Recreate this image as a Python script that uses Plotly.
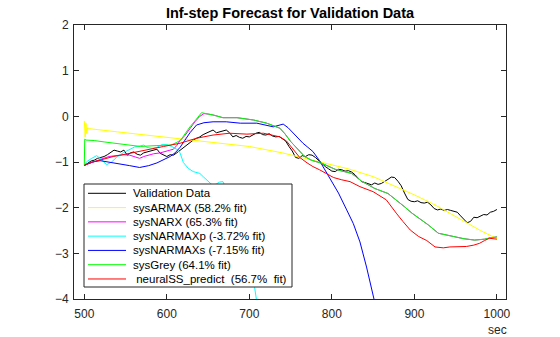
import plotly.graph_objects as go

# ---------------- data ----------------
val_t = [500,504,508,512,516,520,524,528,532,536,540,544,548,552,556,560,564,568,572,576,
         580,584,588,592,596,600,604,608,612,616,620,624,628,632,636,640,644,648,652,656,
         660,664,668,672,676,680,684,688,692,696,700,704,708,712,716,720,724,728,732,736,
         740,744,748,752,756,760,764,768,772,776,780,784,788,792,796,800,804,808,812,816,
         820,824,828,832,836,840,844,848,852,856,860,864,868,872,876,880,884,888,892,896,
         900,904,908,912,916,920,924,928,932,936,940,944,948,952,956,960,964,968,972,976,
         980,984,988,992,996,1000]
val_y = [-1.08,-1.02,-0.98,-0.96,-0.92,-0.90,-0.88,-0.84,-0.78,-0.74,-0.76,-0.78,-0.74,-0.85,-0.80,-0.78,-0.83,-0.85,-0.80,-0.78,
         -0.75,-0.74,-0.72,-0.81,-0.84,-0.88,-0.84,-0.85,-0.80,-0.74,-0.68,-0.63,-0.58,-0.52,-0.48,-0.45,-0.40,-0.37,-0.33,-0.30,
         -0.36,-0.34,-0.32,-0.30,-0.36,-0.45,-0.42,-0.46,-0.48,-0.44,-0.45,-0.40,-0.37,-0.35,-0.40,-0.41,-0.38,-0.43,-0.45,-0.44,
         -0.50,-0.54,-0.66,-0.76,-0.90,-0.92,-0.86,-0.88,-0.84,-0.85,-0.90,-0.97,-1.04,-1.10,-1.15,-1.20,-1.21,-1.16,-1.17,-1.20,
         -1.19,-1.22,-1.28,-1.36,-1.43,-1.45,-1.48,-1.50,-1.46,-1.49,-1.47,-1.43,-1.38,-1.33,-1.34,-1.42,-1.52,-1.68,-1.82,-1.86,
         -1.87,-1.85,-1.89,-1.90,-1.88,-1.94,-2.02,-2.05,-2.03,-2.06,-2.04,-2.06,-2.08,-2.10,-2.18,-2.25,-2.33,-2.30,-2.21,-2.22,
         -2.18,-2.15,-2.16,-2.10,-2.08,-2.04]

armax_t = [500,501,502,503,504,506,540,580,620,660,700,740,780,820,850,876,900,925,957,980,1000]
armax_y = [-0.10,-0.45,-0.15,-0.38,-0.25,-0.27,-0.34,-0.42,-0.49,-0.57,-0.66,-0.80,-0.97,-1.15,-1.32,-1.52,-1.72,-1.94,-2.27,-2.50,-2.68]

narx_t = [500,510,520,530,540,548,555,562,567,572,576,584,592,600,608,612,616,622,628,634,640,645,
          650,656,668,685,705,721,737,743,750,759,767,775,788,804,824,836,852,868,876,888,897,908,917,929,940,949,960,973,985,992,1000]
narx_y = [-1.07,-1.00,-0.94,-0.88,-0.85,-0.84,-0.85,-0.90,-0.92,-0.88,-0.86,-0.82,-0.80,-0.76,-0.72,-0.64,-0.53,-0.42,-0.27,-0.12,0.00,0.06,
          0.05,0.03,-0.03,-0.03,-0.08,-0.15,-0.26,-0.38,-0.55,-0.72,-0.88,-0.96,-1.03,-1.16,-1.25,-1.42,-1.58,-1.69,-1.80,-1.98,-2.12,-2.26,-2.38,-2.56,-2.60,-2.63,-2.68,-2.71,-2.69,-2.66,-2.64]

narmaxp_t = [500,503,509,515,521,527,533,539,547,555,561,567,572,576,582,588,594,600,606,612,616,620,626,632,640,644,648,652,656,660,664,668,680,690,700,706,709,715]
narmaxp_y = [-1.07,-0.99,-0.92,-0.86,-0.95,-1.06,-1.00,-0.90,-0.80,-0.72,-0.67,-0.65,-0.63,-0.68,-0.70,-0.68,-0.62,-0.62,-0.66,-0.72,-0.80,-1.01,-1.14,-1.21,-1.25,-1.32,-1.39,-1.45,-1.52,-1.48,-1.44,-1.43,-1.90,-2.40,-3.00,-3.70,-4.05,-4.80]

narmaxs_t = [500,510,519,530,543,555,567,578,588,596,604,610,616,622,628,636,645,656,672,689,709,729,741,747,753,759,765,771,777,785,796,808,818,826,834,842,851,860]
narmaxs_y = [-1.07,-1.00,-0.97,-1.00,-1.04,-1.08,-1.12,-1.08,-1.02,-0.95,-0.88,-0.80,-0.68,-0.52,-0.36,-0.19,-0.14,-0.12,-0.12,-0.15,-0.15,-0.23,-0.17,-0.25,-0.37,-0.48,-0.59,-0.68,-0.77,-0.97,-1.30,-1.68,-2.05,-2.35,-2.75,-3.30,-4.00,-4.80]

grey_t = [500,500.5,502,512,524,536,550,568,588,605,612,617,621,628,635,642,650,656,668,685,705,721,737,743,750,759,767,775,788,804,824,836,852,868,876,888,897,908,917,929,940,949,960,973,985,992,1000]
grey_y = [-1.07,-0.50,-0.52,-0.53,-0.56,-0.59,-0.63,-0.66,-0.64,-0.63,-0.57,-0.52,-0.41,-0.23,-0.08,0.08,0.05,0.03,-0.03,-0.03,-0.08,-0.15,-0.26,-0.38,-0.55,-0.72,-0.88,-0.96,-1.03,-1.16,-1.25,-1.42,-1.58,-1.69,-1.80,-1.98,-2.12,-2.26,-2.38,-2.56,-2.60,-2.63,-2.68,-2.71,-2.69,-2.66,-2.64]

neural_t = [500,510,519,535,555,575,596,616,636,656,676,697,717,737,745,749,755,761,770,777,785,795,802,812,822,834,850,866,872,878,886,895,905,915,925,935,943,955,963,972,979,985,991,1000]
neural_y = [-1.07,-1.00,-0.96,-0.88,-0.81,-0.73,-0.66,-0.59,-0.48,-0.41,-0.37,-0.39,-0.37,-0.45,-0.54,-0.63,-0.76,-0.90,-1.02,-1.10,-1.17,-1.27,-1.34,-1.39,-1.43,-1.54,-1.65,-1.83,-1.98,-2.12,-2.30,-2.49,-2.63,-2.72,-2.86,-2.88,-2.86,-2.85,-2.85,-2.82,-2.78,-2.72,-2.67,-2.69]

names = ["Validation Data", "sysARMAX (58.2% fit)", "sysNARX (65.3% fit)",
         "sysNARMAXp (-3.72% fit)", "sysNARMAXs (-7.15% fit)", "sysGrey (64.1% fit)",
         "\u00a0neuralSS_predict\u00a0 (56.7%\u00a0 fit)"]
colors = ["#000000", "#FFFF00", "#FF00FF", "#00FFFF", "#0000FF", "#00FF00", "#FF0000"]
series = [(val_t, val_y), (armax_t, armax_y), (narx_t, narx_y), (narmaxp_t, narmaxp_y),
          (narmaxs_t, narmaxs_y), (grey_t, grey_y), (neural_t, neural_y)]

x_ticks = [500, 600, 700, 800, 900, 1000]
y_ticks = [-4, -3, -2, -1, 0, 1, 2]

# ---------------- figure ----------------
W, H = 560, 337
ML, MR, MT, MB = 74, 54, 25, 38
PW, PH = W - ML - MR, H - MT - MB

def px_x(p):   # pixel -> paper x
    return (p - ML) / PW

def px_y(p):   # pixel -> paper y
    return (H - MB - p) / PH

fig = go.Figure()
for (t, y), n, c in zip(series, names, colors):
    fig.add_trace(go.Scatter(x=t, y=y, mode="lines", name=n, showlegend=False,
                             line=dict(color=c, width=1)))

axis_common = dict(showline=True, mirror="ticks", linecolor="#262626", linewidth=1,
                   ticks="inside", ticklen=5, tickcolor="#262626", tickwidth=1,
                   showgrid=False, zeroline=False, automargin=False,
                   tickfont=dict(family="Liberation Sans, Arial", size=12, color="#262626"))

# legend box drawn as layout decoration (MATLAB-style compact legend)
leg_left, leg_right, leg_top, leg_bot = 84, 292, 184, 287
row0, row_step = 193.3, 14.28
shapes = [dict(type="rect", xref="paper", yref="paper", layer="above",
               x0=px_x(leg_left), x1=px_x(leg_right), y0=px_y(leg_bot), y1=px_y(leg_top),
               fillcolor="white", line=dict(color="#262626", width=1))]
annotations = []
for i, (n, c) in enumerate(zip(names, colors)):
    yy = px_y(row0 + i * row_step)
    shapes.append(dict(type="line", xref="paper", yref="paper", layer="above",
                       x0=px_x(88), x1=px_x(126), y0=yy, y1=yy,
                       line=dict(color=c, width=1)))
    annotations.append(dict(text=n, x=px_x(131), y=yy, xref="paper", yref="paper",
                            showarrow=False, xanchor="left", yanchor="middle",
                            font=dict(family="Liberation Sans, Arial", size=11.5, color="#000000")))

annotations.append(dict(text="sec", x=px_x(497), y=px_y(330), xref="paper", yref="paper",
                        showarrow=False, xanchor="center", yanchor="middle",
                        font=dict(family="Liberation Sans, Arial", size=12, color="#262626")))

fig.update_layout(
    width=W, height=H,
    margin=dict(l=ML, r=MR, t=MT, b=MB),
    paper_bgcolor="white", plot_bgcolor="white",
    font=dict(family="Liberation Sans, Arial", color="#262626"),
    title=dict(text="<b>Inf-step Forecast for Validation Data</b>",
               x=290 / W, xref="container", xanchor="center",
               y=1 - 13 / H, yref="container", yanchor="middle",
               font=dict(size=14.5, color="#000000")),
    xaxis=dict(range=[487.5, 1011], tickvals=x_ticks, ticklabelstandoff=4, **axis_common),
    yaxis=dict(range=[-4, 2], tickvals=y_ticks, ticklabelstandoff=2, **axis_common),
    showlegend=False,
    shapes=shapes,
    annotations=annotations,
)

fig.write_html("out.html")
